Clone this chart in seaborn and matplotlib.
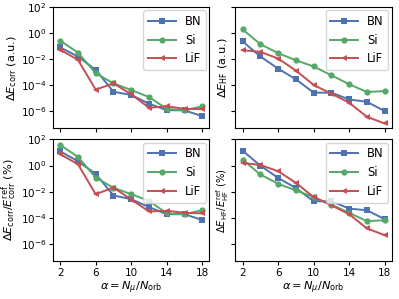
import numpy as np
import pandas as pd
import matplotlib
matplotlib.use("Agg")
import matplotlib.pyplot as plt
import matplotlib.ticker as mticker
import seaborn as sb

alpha = [2, 4, 6, 8, 10, 12, 14, 16, 18]
systems = ['BN', 'Si', 'LiF']

# log10 of the errors
corr_abs = {
    'BN':  [-1.10, -1.80, -2.82, -4.49, -4.74, -5.41, -5.90, -5.92, -6.36],
    'Si':  [-0.59, -1.49, -3.08, -3.85, -4.36, -4.90, -5.80, -5.92, -5.60],
    'LiF': [-1.28, -2.05, -4.33, -3.85, -4.69, -5.72, -5.60, -5.80, -5.82],
}
hf_abs = {
    'BN':  [-0.64, -1.79, -2.72, -3.54, -4.56, -4.56, -5.08, -5.26, -5.97],
    'Si':  [0.28, -0.85, -1.54, -2.08, -2.56, -3.23, -3.92, -4.51, -4.44],
    'LiF': [-1.31, -1.44, -1.95, -2.87, -3.97, -4.64, -5.33, -6.41, -6.92],
}
corr_rel = {
    'BN':  [1.09, 0.33, -0.64, -2.29, -2.57, -3.18, -3.72, -3.72, -4.17],
    'Si':  [1.58, 0.66, -0.92, -1.70, -2.19, -2.70, -3.66, -3.72, -3.41],
    'LiF': [0.87, 0.10, -2.19, -1.68, -2.60, -3.51, -3.46, -3.61, -3.66],
}
hf_rel = {
    'BN':  [1.14, 0.00, -0.94, -1.72, -2.73, -2.73, -3.29, -3.42, -4.10],
    'Si':  [0.46, -0.68, -1.39, -1.90, -2.41, -2.99, -3.62, -4.25, -4.18],
    'LiF': [0.20, 0.05, -0.43, -1.32, -2.41, -3.04, -3.72, -4.81, -5.32],
}

ylabels = [r'$\Delta E_{\rm corr}$ (a.u.)', r'$\Delta E_{\rm HF}$ (a.u.)',
           r'$\Delta E_{\rm corr}/E_{\rm corr}^{\rm ref}$ (%)',
           r'$\Delta E_{\rm HF}/E_{\rm HF}^{\rm ref}$ (%)']
xlabel = r'$\alpha = N_\mu/N_{\rm orb}$'

deep = sb.color_palette('deep')
palette = {'BN': deep[0], 'Si': deep[2], 'LiF': deep[3]}
markers = {'BN': 's', 'Si': 'o', 'LiF': '<'}


def make_df(d):
    rows = []
    for s in systems:
        for a, v in zip(alpha, d[s]):
            rows.append({'alpha': a, 'err': 10 ** v, 'system': s})
    return pd.DataFrame(rows)


plt.rcParams.update({'font.size': 8, 'xtick.labelsize': 7.5, 'ytick.labelsize': 7.5,
                     'legend.fontsize': 8.3, 'axes.labelsize': 8.2,
                     'xtick.major.size': 3, 'ytick.major.size': 3,
                     'axes.linewidth': 0.8})

fig, axes = plt.subplots(2, 2, figsize=(3.99, 2.99), dpi=100)
fig.subplots_adjust(left=0.133, right=0.982, top=0.977, bottom=0.127, wspace=0.166, hspace=0.09)

for i, (ax, d, lab) in enumerate(zip(axes.flat, [corr_abs, hf_abs, corr_rel, hf_rel], ylabels)):
    sb.lineplot(data=make_df(d), x='alpha', y='err', hue='system', style='system',
                markers=markers, dashes=False, palette=palette, ax=ax,
                markersize=4.5, mew=0, linewidth=1.4)
    ax.set_yscale('log')
    ax.set_ylim(5e-8, 1e2)
    ax.set_yticks([1e-6, 1e-4, 1e-2, 1e0, 1e2])
    ax.yaxis.set_minor_locator(mticker.NullLocator())
    ax.set_xlim(1.2, 18.8)
    ax.set_xticks([2, 6, 10, 14, 18])
    if i == 3:
        ax.set_ylabel(lab, labelpad=0, fontsize=7.2)
    else:
        ax.set_ylabel(lab, labelpad=1)
    ax.set_xlabel(xlabel if i >= 2 else '', labelpad=1)
    if i < 2:
        ax.tick_params(labelbottom=False)
    if i % 2 == 1:
        ax.tick_params(labelleft=False)
    ax.tick_params(pad=2)
    ax.legend(loc='upper right', title=None, handlelength=2.4, borderaxespad=0.3)

fig.savefig('out.png', dpi=100)
